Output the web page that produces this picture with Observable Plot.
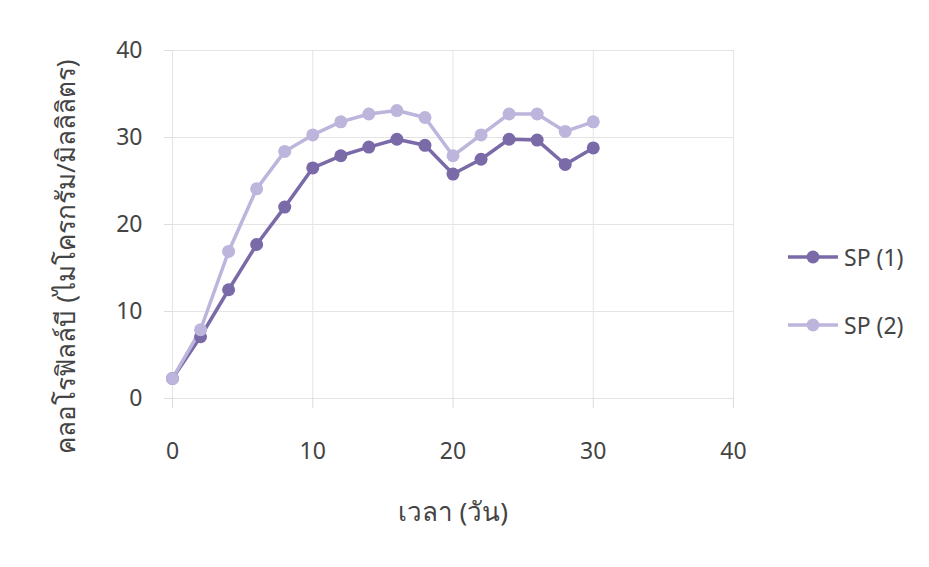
<!DOCTYPE html>
<html>
<head>
<meta charset="utf-8">
<script src="https://cdn.jsdelivr.net/npm/d3@7"></script>
<script src="https://cdn.jsdelivr.net/npm/@observablehq/plot@0.6"></script>
<style>
  html, body { margin: 0; padding: 0; background: #fff; }
  #wrap { position: relative; width: 929px; height: 567px; font-family: "Noto Sans", "DejaVu Sans", sans-serif; }
  #legend { position: absolute; left: 786px; top: 235px; color: #444; font-size: 23px; }
  .item { display: flex; align-items: center; height: 44px; margin-bottom: 24px; }
  .item svg { margin-right: 4px; }
</style>
</head>
<body>
<div id="wrap"></div>
<script>
// Chlorophyll b over time for two samples
const days = [0, 2, 4, 6, 8, 10, 12, 14, 16, 18, 20, 22, 24, 26, 28, 30];
const sp1 = [2.3, 7.1, 12.5, 17.7, 22.0, 26.5, 27.9, 28.9, 29.8, 29.1, 25.8, 27.5, 29.8, 29.7, 26.9, 28.8];
const sp2 = [2.3, 7.9, 16.9, 24.1, 28.4, 30.3, 31.8, 32.7, 33.1, 32.3, 27.9, 30.3, 32.7, 32.7, 30.7, 31.8];
const seriesNames = ["SP (1)", "SP (2)"];
const seriesColors = ["#7a6aa8", "#bdb5dc"];
const ticks = [0, 10, 20, 30, 40];
const xLabel = "เวลา (วัน)";
const yLabel = "คลอโรฟิลล์บี (ไมโครกรัม/มิลลิลิตร)";

const rows = [
  ...days.map((d, i) => ({day: d, value: sp1[i], series: seriesNames[0]})),
  ...days.map((d, i) => ({day: d, value: sp2[i], series: seriesNames[1]}))
];

const chart = Plot.plot({
  width: 929,
  height: 567,
  marginLeft: 172,
  marginRight: 196,
  marginTop: 50,
  marginBottom: 169,
  style: {fontFamily: "'Noto Sans', 'DejaVu Sans', sans-serif", color: "#444", background: "#fff"},
  x: {domain: [0, 40]},
  y: {domain: [0, 40]},
  color: {domain: seriesNames, range: seriesColors},
  marks: [
    Plot.gridX(ticks, {stroke: "#e4e4e4", strokeOpacity: 1, strokeWidth: 1}),
    Plot.gridY(ticks, {stroke: "#e4e4e4", strokeOpacity: 1, strokeWidth: 1}),
    Plot.axisX(ticks, {tickSize: 10, tickPadding: 34, fontSize: 23, stroke: "#dcdcdc",
      label: xLabel, labelArrow: "none", labelAnchor: "center", labelOffset: 122, tickFormat: d => d}),
    Plot.axisY(ticks, {tickSize: 8, tickPadding: 22, fontSize: 23, stroke: "#dcdcdc",
      label: yLabel, labelArrow: "none", labelAnchor: "center", labelOffset: 106, tickFormat: d => d}),
    Plot.line(rows, {x: "day", y: "value", z: "series", stroke: "series", strokeWidth: 3.5}),
    Plot.dot(rows, {x: "day", y: "value", fill: "series", r: 6.5})
  ]
});
// Axis titles: larger type, and no direction arrows
chart.querySelectorAll('[aria-label="x-axis label"] text, [aria-label="y-axis label"] text').forEach(t => {
  t.setAttribute("font-size", 26);
  const s = t.textContent;
  t.textContent = s.includes("วัน") ? xLabel : yLabel;
});
// The vertical title sits a little lower and further left
const yTitle = chart.querySelector('[aria-label="y-axis label"]');
if (yTitle) yTitle.setAttribute("transform", "translate(-10,32) " + (yTitle.getAttribute("transform") || ""));
document.getElementById("wrap").appendChild(chart);

// Legend placed to the right of the plot frame
const legend = document.createElement("div");
legend.id = "legend";
seriesNames.forEach((name, i) => {
  const item = document.createElement("div");
  item.className = "item";
  item.innerHTML = `<svg width="54" height="16"><line x1="2" y1="8" x2="52" y2="8" stroke="${seriesColors[i]}" stroke-width="3.5"/><circle cx="27" cy="8" r="6.5" fill="${seriesColors[i]}"/></svg><span>${name}</span>`;
  legend.appendChild(item);
});
document.getElementById("wrap").appendChild(legend);
</script>
</body>
</html>
